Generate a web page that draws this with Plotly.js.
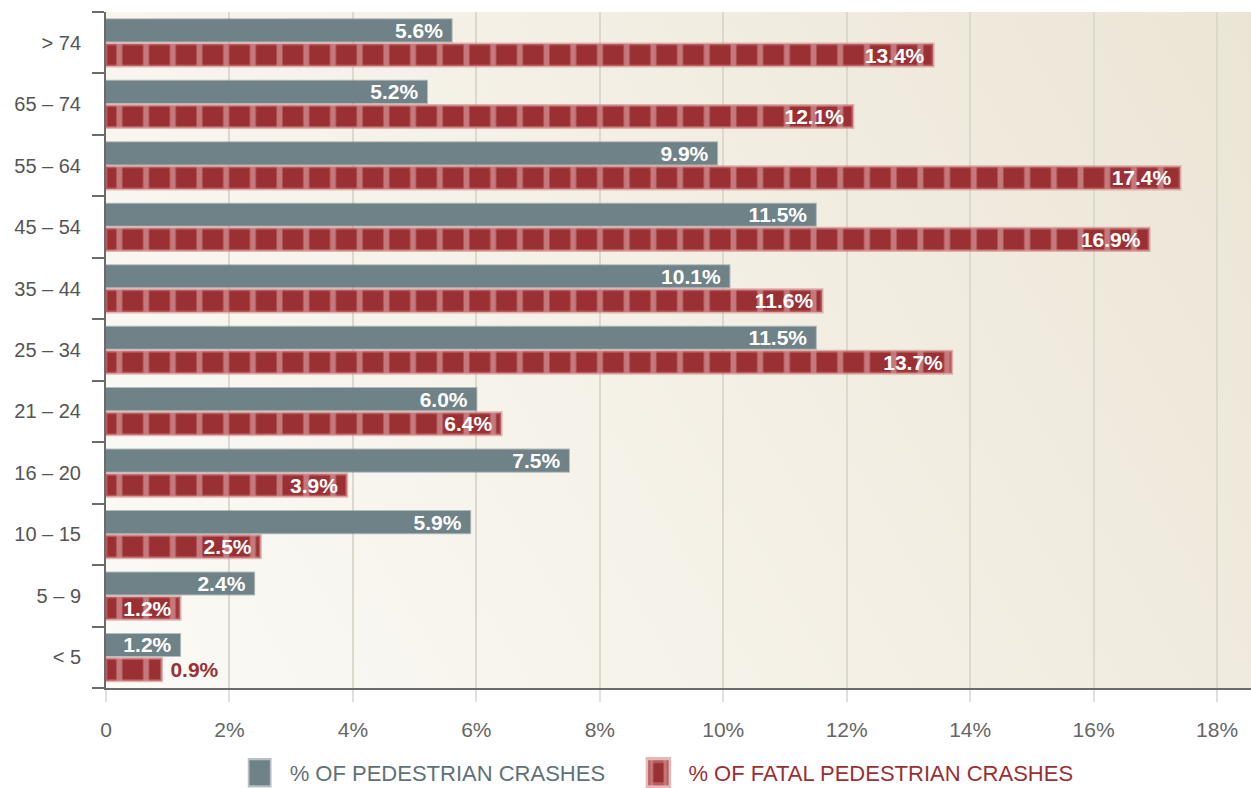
<!DOCTYPE html>
<html>
<head>
<meta charset="utf-8">
<script src="https://cdn.plot.ly/plotly-3.0.1.min.js"></script>
<style>
  html, body { margin: 0; padding: 0; background: #fff; }
  #chart { width: 1251px; height: 788px; }
</style>
</head>
<body>
<div id="chart"></div>
<script>
// age groups, bottom to top
var ageGroups = ['< 5', '5 – 9', '10 – 15', '16 – 20', '21 – 24', '25 – 34',
                 '35 – 44', '45 – 54', '55 – 64', '65 – 74', '> 74'];
var pedCrashes = [1.2, 2.4, 5.9, 7.5, 6.0, 11.5, 10.1, 11.5, 9.9, 5.2, 5.6];
var fatalCrashes = [0.9, 1.2, 2.5, 3.9, 6.4, 13.7, 11.6, 16.9, 17.4, 12.1, 13.4];
var xTicks = [0, 2, 4, 6, 8, 10, 12, 14, 16, 18];
var xTickText = ['0', '2%', '4%', '6%', '8%', '10%', '12%', '14%', '16%', '18%'];

var plain = '"Liberation Sans", Arial, sans-serif';
var bold = '"Liberation Sans", Arial, sans-serif';

// soft gradient for the plot background
function bgImage() {
  var c = document.createElement('canvas');
  c.width = 1145; c.height = 676;
  var ctx = c.getContext('2d');
  var g = ctx.createLinearGradient(0, 676, 1145, 0);
  g.addColorStop(0, '#fbfaf6');
  g.addColorStop(0.5, '#f4f0e6');
  g.addColorStop(1, '#ebe5d5');
  ctx.fillStyle = g;
  ctx.fillRect(0, 0, 1145, 676);
  return c.toDataURL();
}

function pct(v) { return v.toFixed(1) + '%'; }

var fatal = {
  type: 'bar',
  orientation: 'h',
  name: '<span style="color:#9b3034">% OF FATAL PEDESTRIAN CRASHES</span>',
  y: ageGroups,
  x: fatalCrashes,
  text: fatalCrashes.map(function (v, i) { return i === 0 ? '\u00a0' + pct(v) : pct(v) + '\u00a0'; }),
  textposition: fatalCrashes.map(function (v, i) { return i === 0 ? 'outside' : 'inside'; }),
  insidetextanchor: 'end',
  constraintext: 'none',
  textfont: { family: bold, size: 21, weight: 'bold' },
  insidetextfont: { color: 'white', family: bold, size: 21, weight: 'bold' },
  outsidetextfont: { color: '#9b3034', family: bold, size: 21, weight: 'bold' },
  marker: {
    color: '#9b3034',
    line: { color: 'rgba(205,125,128,0.55)', width: 3 },
    pattern: { shape: '|', bgcolor: '#9b3034', fgcolor: '#c4797c', size: 26.7, solidity: 0.22 }
  },
  hoverinfo: 'skip'
};

var ped = {
  type: 'bar',
  orientation: 'h',
  name: '<span style="color:#5f7277">% OF PEDESTRIAN CRASHES</span>\u00a0\u00a0\u00a0',
  y: ageGroups,
  x: pedCrashes,
  text: pedCrashes.map(function (v) { return pct(v) + '\u00a0'; }),
  textposition: 'inside',
  insidetextanchor: 'end',
  constraintext: 'none',
  insidetextfont: { color: 'white', family: bold, size: 21, weight: 'bold' },
  marker: {
    color: '#6f8287',
    line: { color: 'rgba(111,130,135,0.5)', width: 2 }
  },
  hoverinfo: 'skip'
};

var layout = {
  width: 1251,
  height: 788,
  margin: { l: 106, r: 0, t: 12, b: 100, autoexpand: false },
  paper_bgcolor: '#ffffff',
  plot_bgcolor: '#f4f0e6',
  barmode: 'group',
  bargap: 0.2,
  bargroupgap: 0.1,
  showlegend: true,
  legend: {
    orientation: 'h',
    x: 0.108, xanchor: 'left',
    y: -0.1257, yanchor: 'middle',
    traceorder: 'reversed',
    font: { family: plain, size: 22, color: '#5f7277' },
    itemwidth: 50
  },
  xaxis: {
    range: [0, 18.55],
    tickvals: xTicks,
    ticktext: xTickText,
    showgrid: true,
    gridcolor: '#ddd8cc',
    gridwidth: 2,
    zeroline: false,
    ticks: 'outside',
    ticklen: 12,
    tickwidth: 2,
    tickcolor: '#e2e0dc',
    showline: true,
    linecolor: '#6b6b6b',
    linewidth: 2,
    ticklabelstandoff: 10,
    tickfont: { family: plain, size: 21, color: '#666666' },
    fixedrange: true
  },
  yaxis: {
    type: 'category',
    categoryorder: 'array',
    categoryarray: ageGroups,
    tickson: 'boundaries',
    ticks: 'outside',
    ticklen: 12,
    tickwidth: 2,
    tickcolor: '#6b6b6b',
    showline: true,
    linecolor: '#6b6b6b',
    linewidth: 2,
    showgrid: false,
    ticklabelstandoff: 19,
    tickfont: { family: plain, size: 20, color: '#555555' },
    fixedrange: true
  },
  images: [{
    source: bgImage(),
    xref: 'paper', yref: 'paper',
    x: 0, y: 1, sizex: 1, sizey: 1,
    xanchor: 'left', yanchor: 'top',
    sizing: 'stretch',
    layer: 'below'
  }]
};

Plotly.newPlot('chart', [fatal, ped], layout, { displayModeBar: false, staticPlot: true })
  .then(function () {
    // larger legend swatches, like the original
    document.querySelectorAll('.legend .legendpoints path').forEach(function (p) {
      var t = p.getAttribute('transform') || '';
      p.setAttribute('transform', t + ' scale(1.7,2.1)');
    });
  });
</script>
</body>
</html>
